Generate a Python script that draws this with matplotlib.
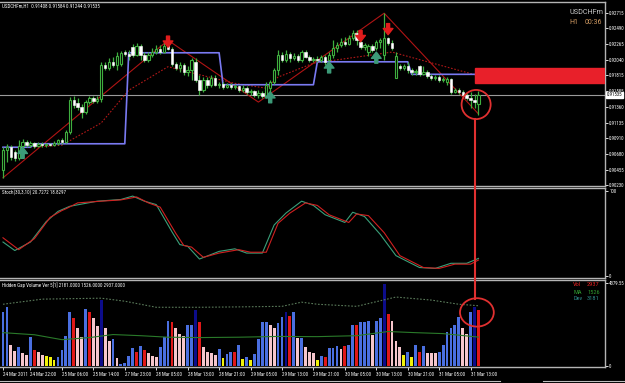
import numpy as np
import matplotlib
matplotlib.use("Agg")
import matplotlib.pyplot as plt
from matplotlib.patches import Ellipse, Rectangle
from matplotlib.lines import Line2D

# USDCHFm H1 candles (bar 0 = 24 Mar 2011, last bar = 31 Mar)
opens = [0.9045, 0.9074, 0.9078, 0.9071, 0.9062, 0.9080, 0.9086, 0.9081, 0.9084, 0.9080,
         0.9083, 0.9081, 0.9083, 0.9081, 0.9084, 0.9088, 0.9086, 0.9100, 0.9146, 0.9142,
         0.9136, 0.9129, 0.9143, 0.9149, 0.9145, 0.9147, 0.9196, 0.9192, 0.9201, 0.9196,
         0.9198, 0.9215, 0.9212, 0.9222, 0.9211, 0.9224, 0.9211, 0.9204, 0.9211, 0.9215,
         0.9219, 0.9215, 0.9224, 0.9219, 0.9198, 0.9192, 0.9196, 0.9186, 0.9189, 0.9201,
         0.9175, 0.9160, 0.9175, 0.9168, 0.9178, 0.9168, 0.9169, 0.9165, 0.9168, 0.9165,
         0.9166, 0.9160, 0.9163, 0.9158, 0.9159, 0.9153, 0.9156, 0.9152, 0.9163, 0.9172,
         0.9189, 0.9211, 0.9204, 0.9212, 0.9206, 0.9209, 0.9204, 0.9215, 0.9208, 0.9204,
         0.9205, 0.9204, 0.9208, 0.9204, 0.9211, 0.9221, 0.9225, 0.9230, 0.9227, 0.9235,
         0.9242, 0.9230, 0.9222, 0.9215, 0.9224, 0.9221, 0.9230, 0.9211, 0.9235, 0.9228,
         0.9178, 0.9195, 0.9192, 0.9195, 0.9189, 0.9186, 0.9195, 0.9183, 0.9186, 0.9181,
         0.9178, 0.9179, 0.9175, 0.9172, 0.9176, 0.9158, 0.9160, 0.9158, 0.9153, 0.9149,
         0.9146, 0.91408]
highs = [0.9078, 0.9083, 0.9081, 0.9074, 0.9088, 0.9090, 0.9088, 0.9087, 0.9086, 0.9086,
         0.9086, 0.9084, 0.9084, 0.9087, 0.9090, 0.9091, 0.9103, 0.9150, 0.9152, 0.9149,
         0.9140, 0.9146, 0.9152, 0.9152, 0.9152, 0.9201, 0.9201, 0.9206, 0.9208, 0.9215,
         0.9217, 0.9218, 0.9218, 0.9227, 0.9228, 0.9227, 0.9215, 0.9215, 0.9221, 0.9225,
         0.9225, 0.9230, 0.9232, 0.9222, 0.9201, 0.9201, 0.9199, 0.9195, 0.9206, 0.9206,
         0.9182, 0.9179, 0.9179, 0.9182, 0.9182, 0.9172, 0.9172, 0.9170, 0.9170, 0.9169,
         0.9168, 0.9168, 0.9166, 0.9162, 0.9160, 0.9160, 0.9159, 0.9172, 0.9175, 0.9192,
         0.9218, 0.9215, 0.9218, 0.9215, 0.9214, 0.9212, 0.9218, 0.9218, 0.9211, 0.9208,
         0.9209, 0.9211, 0.9211, 0.9215, 0.9232, 0.9230, 0.9235, 0.9237, 0.9240, 0.9247,
         0.9247, 0.9231, 0.9228, 0.9227, 0.9227, 0.9232, 0.9235, 0.9271, 0.9237, 0.9232,
         0.9215, 0.9198, 0.9198, 0.9201, 0.9192, 0.9191, 0.9196, 0.9195, 0.9189, 0.9183,
         0.9182, 0.9182, 0.9179, 0.9179, 0.9178, 0.9163, 0.9163, 0.9160, 0.9156, 0.9158,
         0.9155, 0.91584]
lows = [0.9034, 0.9057, 0.9060, 0.9058, 0.9060, 0.9077, 0.9078, 0.9078, 0.9077, 0.9078,
        0.9078, 0.9078, 0.9080, 0.9080, 0.9081, 0.9083, 0.9084, 0.9097, 0.9134, 0.9132,
        0.9120, 0.9126, 0.9140, 0.9142, 0.9142, 0.9143, 0.9189, 0.9189, 0.9194, 0.9189,
        0.9195, 0.9209, 0.9204, 0.9208, 0.9209, 0.9204, 0.9201, 0.9201, 0.9208, 0.9212,
        0.9212, 0.9214, 0.9218, 0.9195, 0.9189, 0.9186, 0.9182, 0.9181, 0.9175, 0.9172,
        0.9153, 0.9158, 0.9163, 0.9165, 0.9166, 0.9163, 0.9162, 0.9163, 0.9162, 0.9162,
        0.9158, 0.9158, 0.9155, 0.9153, 0.9150, 0.9149, 0.9149, 0.9149, 0.9158, 0.9169,
        0.9182, 0.9201, 0.9201, 0.9201, 0.9204, 0.9201, 0.9201, 0.9206, 0.9201, 0.9201,
        0.9201, 0.9201, 0.9196, 0.9204, 0.9206, 0.9215, 0.9222, 0.9224, 0.9225, 0.9232,
        0.9225, 0.9219, 0.9218, 0.9209, 0.9215, 0.9218, 0.9221, 0.9204, 0.9225, 0.9218,
        0.9178, 0.9189, 0.9189, 0.9185, 0.9182, 0.9182, 0.9181, 0.9182, 0.9178, 0.9175,
        0.9175, 0.9172, 0.9172, 0.9168, 0.9155, 0.9156, 0.9155, 0.9150, 0.9146, 0.9134,
        0.9134, 0.91244]
closes = [0.9074, 0.9078, 0.9064, 0.9062, 0.9080, 0.9086, 0.9081, 0.9084, 0.9080, 0.9083,
          0.9081, 0.9083, 0.9081, 0.9084, 0.9088, 0.9086, 0.9100, 0.9146, 0.9139, 0.9136,
          0.9129, 0.9143, 0.9149, 0.9145, 0.9147, 0.9196, 0.9192, 0.9201, 0.9196, 0.9209,
          0.9214, 0.9212, 0.9209, 0.9211, 0.9224, 0.9211, 0.9204, 0.9211, 0.9215, 0.9219,
          0.9215, 0.9224, 0.9219, 0.9198, 0.9192, 0.9196, 0.9186, 0.9189, 0.9204, 0.9175,
          0.9160, 0.9175, 0.9168, 0.9178, 0.9168, 0.9169, 0.9165, 0.9168, 0.9165, 0.9166,
          0.9160, 0.9163, 0.9158, 0.9159, 0.9153, 0.9156, 0.9152, 0.9168, 0.9172, 0.9189,
          0.9211, 0.9204, 0.9212, 0.9206, 0.9209, 0.9204, 0.9215, 0.9208, 0.9204, 0.9205,
          0.9204, 0.9208, 0.9201, 0.9211, 0.9221, 0.9225, 0.9230, 0.9227, 0.9235, 0.9242,
          0.9232, 0.9222, 0.9225, 0.9224, 0.9218, 0.9230, 0.9232, 0.9235, 0.9228, 0.9221,
          0.9209, 0.9192, 0.9195, 0.9189, 0.9186, 0.9188, 0.9183, 0.9186, 0.9181, 0.9178,
          0.9179, 0.9175, 0.9176, 0.9176, 0.9158, 0.9160, 0.9158, 0.9153, 0.9149, 0.9146,
          0.9143, 0.91535]

# overlays on the price window (bar index, price)
zigzag_bars = [0, 42, 65, 97, 121]
zigzag_vals = [0.9034, 0.9232, 0.9143, 0.9271, 0.9126]
ma_bars = [8, 15, 25, 32, 42, 46, 59, 67, 70, 79, 99, 121]
ma_vals = [0.9078, 0.9081, 0.9113, 0.9160, 0.9194, 0.9188, 0.9170, 0.9163, 0.9179, 0.9199, 0.9215, 0.9181]
level_bars = [0, 7, 8, 31, 32, 55, 56, 79, 80, 103, 104, 120]
level_vals = [0.9078, 0.9078, 0.9083, 0.9083, 0.9214, 0.9214, 0.9168, 0.9168, 0.9201, 0.9201, 0.9183, 0.9183]
sell_bars = [42, 91, 98]
sell_tips = [0.9222, 0.9230, 0.9240]
buy_bars = [5, 68, 83, 95]
buy_tips = [0.9078, 0.9158, 0.9201, 0.9215]
zone_low, zone_high = 0.9170, 0.9192
price_ticks = [0.92715, 0.92490, 0.92265, 0.92040, 0.91815, 0.91585,
               0.91360, 0.91135, 0.90910, 0.90680, 0.90455, 0.90230]

# Stoch(30,3,10)
stoch_main_bars = [0, 3, 7, 11, 14, 17, 24, 30, 33, 36, 39, 43, 45, 47, 50, 55, 59,
                   62, 66, 69, 72, 76, 79, 82, 87, 89, 92, 96, 100, 106, 110, 114, 118, 121]
stoch_main = [40, 30, 40, 64, 76, 82, 88, 90, 94, 88, 84, 52, 37, 35, 20, 29, 32,
              27, 27, 60, 74, 88, 83, 72, 63, 75, 70, 49, 24, 10, 9, 15, 15, 20.7272]
stoch_sig_bars = [0, 4, 8, 12, 15, 16, 19, 25, 30, 34, 37, 40, 44, 46, 48, 51, 55, 60,
                  63, 67, 70, 73, 77, 80, 83, 88, 90, 93, 97, 101, 107, 111, 115, 119, 121]
stoch_sig = [45, 31, 44, 69, 77, 79, 86, 88, 89.5, 93, 86, 81, 50, 36, 34, 22, 27, 31,
             28, 28, 62, 74, 86, 83, 72, 63, 73, 71, 51, 24, 10, 9, 14, 14, 18.8297]

# Hidden Gap Volume
volumes = [2830, 3100, 1120, 800, 1000, 700, 590, 1550, 850, 750,
           590, 530, 480, 320, 480, 850, 1600, 2830, 2560, 2030,
           1550, 3000, 2830, 2510, 2090, 3480, 2030, 1340, 1440, 430,
           100, 160, 530, 960, 750, 1070, 850, 700, 530, 480,
           1020, 1550, 2350, 2300, 2030, 1710, 1600, 2140, 2190, 2940,
           2300, 1020, 750, 700, 590, 910, 430, 640, 750, 750,
           1120, 370, 480, 320, 640, 1440, 2300, 2300, 2190, 1980,
           2250, 2570, 2830, 2620, 2830, 1500, 1500, 1020, 750, 700,
           320, 530, 480, 960, 960, 1070, 910, 1070, 1100, 2140,
           2140, 2300, 2300, 2400, 1660, 2350, 2510, 4330, 2730, 2400,
           1340, 1020, 590, 750, 480, 1120, 750, 1070, 700, 700,
           680, 750, 1120, 1820, 1980, 2190, 2570, 1980, 1710, 2830,
           3100, 2937]
vol_kind = list("BBPPBPPBRP" "PYYYBBBBRP" "PBRPPNPPBP" "BBBBRBRPPP" "BBBRPPPBBN"
                "RPPPPBYBBR" "BYBYBBBBPP" "BBNRBPBPPP" "YBRBBBPRBB" "RBBBPBBNRP"
                "PPYBYBRBPP" "PBBBBBBPPB" "NR")
vol_ma_bars = [0, 8, 15, 22, 28, 35, 42, 50, 60, 70, 80, 90, 98, 105, 112, 121]
vol_ma = [1760, 1650, 1390, 1500, 1660, 1600, 1520, 1500, 1520, 1560, 1550, 1600, 1820, 1760, 1710, 1526]
vol_dev_bars = [0, 10, 25, 31, 39, 50, 60, 71, 76, 80, 90, 100, 109, 116, 121]
vol_dev = [3260, 3530, 3580, 3420, 3100, 3100, 3120, 3150, 3370, 3260, 3150, 3640, 3480, 3260, 3181]

date_bars = [0, 7, 15, 23, 31, 39, 47, 55, 63, 71, 79, 87, 95, 103, 111, 119]
date_labels = ["24 Mar 2011", "24 Mar 22:00", "25 Mar 06:00", "25 Mar 14:00", "27 Mar 23:00",
               "28 Mar 05:00", "28 Mar 13:00", "28 Mar 21:00", "29 Mar 05:00", "29 Mar 13:00",
               "29 Mar 21:00", "30 Mar 05:00", "30 Mar 13:00", "30 Mar 21:00", "31 Mar 05:00",
               "31 Mar 13:00"]

plt.rcParams['font.family'] = ['Roboto Condensed', 'DejaVu Sans']
W, H = 625, 383
GREEN = "#3fae3f"
FRAME = "#b4b4b4"
small = 3.6


def box(x0, y0, x1, y1):
    return [x0 / W, 1 - y1 / H, (x1 - x0) / W, (y1 - y0) / H]


def ptext(x, y, s, **kw):
    fig.text(x / W, 1 - y / H, s, va="center", **kw)


fig = plt.figure(figsize=(W / 100, H / 100), dpi=100, facecolor="black")
ax1 = fig.add_axes(box(0, 2, 605, 186))
ax2 = fig.add_axes(box(0, 188, 605, 278), sharex=ax1)
ax3 = fig.add_axes(box(0, 280, 605, 367), sharex=ax1)
for ax in (ax1, ax2, ax3):
    ax.set_facecolor("black")
    for side, sp in ax.spines.items():
        sp.set_color(FRAME)
        sp.set_linewidth(1.0)
    ax.spines["left"].set_visible(False)
    ax.yaxis.tick_right()
    ax.tick_params(axis="y", colors="white", labelsize=3.5, length=2, pad=1, width=0.6)
    ax.tick_params(axis="x", colors="white", labelsize=small, length=2, pad=1.5, width=0.6)
ax1.tick_params(axis="x", bottom=False, labelbottom=False)
ax2.tick_params(axis="x", bottom=False, labelbottom=False)
ax1.set_xlim(-0.76, 153.2)

# price window
idx = np.arange(len(closes))
o, h, l, c = (np.array(v) for v in (opens, highs, lows, closes))
up = c >= o
ax1.vlines(idx, l, h, color=GREEN, lw=0.9, zorder=3)
ax1.bar(idx[up], c[up] - o[up], bottom=o[up], width=0.6, color="black",
        edgecolor=GREEN, lw=0.8, zorder=4)
ax1.bar(idx[~up], o[~up] - c[~up], bottom=c[~up], width=0.6, color="white",
        edgecolor="white", lw=0.4, zorder=4)
ax1.plot(zigzag_bars, zigzag_vals, color="#b01414", lw=0.8, zorder=2)
ax1.plot(ma_bars, ma_vals, color="#b01818", lw=0.8, ls=(0, (1.5, 1.5)), zorder=2)
ax1.plot(level_bars, level_vals, color="#7a7af2", lw=1.2, zorder=2)
ax1.axhline(closes[-1], color="#9a9a9a", lw=0.8, zorder=1)
ax1.add_patch(Rectangle((level_bars[-1], zone_low), 40, zone_high - zone_low,
                        color="#e8202a", zorder=5))
for b, tip in zip(sell_bars, sell_tips):
    ax1.annotate("", xy=(b, tip), xytext=(b, tip + 0.0016),
                 arrowprops=dict(facecolor="#e01c1c", edgecolor="#e01c1c", width=2.2,
                                 headwidth=7, headlength=4.5, shrink=0), zorder=6)
for b, tip in zip(buy_bars, buy_tips):
    ax1.annotate("", xy=(b, tip), xytext=(b, tip - 0.0016),
                 arrowprops=dict(facecolor="#3c9a78", edgecolor="#3c9a78", width=2.2,
                                 headwidth=7, headlength=4.5, shrink=0), zorder=6)
ax1.add_patch(Ellipse((120.4, 0.91395), 7.4, 0.0042, fill=False, ec="#e03030", lw=1.3, zorder=7))
ax1.set_ylim(0.90222, 0.92871)
ax1.set_yticks(price_ticks)
ax1.set_yticklabels([f"{v:.5f}" for v in price_ticks])
ax1.text(1.003, closes[-1], f"{closes[-1]:.5f}", transform=ax1.get_yaxis_transform(),
         fontsize=3.5, color="black", va="center", ha="left",
         bbox=dict(boxstyle="square,pad=0.12", fc="white", ec="white"), clip_on=False, zorder=8)

# stochastic window
ax2.plot(stoch_main_bars, stoch_main, color="#3aa07a", lw=0.8)
ax2.plot(stoch_sig_bars, stoch_sig, color="#d02020", lw=0.8)
ax2.set_ylim(-2.3, 103.5)
ax2.set_yticks([100, 0])
ax2.set_yticklabels(["100", "0"])

# volume window
kind_color = {"B": "#4a6fe0", "N": "#0c0c8a", "R": "#e01818", "P": "#f6c6cc", "Y": "#f2f20a"}
ax3.bar(idx, volumes, width=0.72, color=[kind_color[k] for k in vol_kind], zorder=2)
ax3.plot(vol_ma_bars, vol_ma, color="#2a7a2a", lw=0.8, zorder=3)
ax3.plot(vol_dev_bars, vol_dev, color="#5a7a5a", lw=0.8, ls=(0, (1.5, 1.5)), zorder=3)
ax3.add_patch(Ellipse((120.6, 2830), 8.6, 1500, fill=False, ec="#e03030", lw=1.3, zorder=7))
ax3.set_ylim(-53, 4540)
ax3.set_yticks([4379.55, 0])
ax3.set_yticklabels(["4379.55", "0"])
ax3.set_xticks(date_bars)
ax3.set_xticklabels(date_labels, ha="left")

# hand-drawn connector between the two circles
fig.add_artist(Line2D([475 / W, 475 / W], [1 - 119 / H, 1 - 299 / H], color="#e03030", lw=1.5))
fig.add_artist(Line2D([0, 500 / W], [1 - 381 / H] * 2, color="#bdbdbd", lw=0.8))
fig.add_artist(Line2D([543 / W, 1], [1 - 381 / H] * 2, color="#bdbdbd", lw=0.8))

# captions
ptext(2, 6, "USDCHFm,H1  0.91408 0.91584 0.91244 0.91535", color="white", fontsize=small)
ptext(570, 12, "USDCHFm", color="#c8c8c8", fontsize=5.2, family="Roboto")
ptext(569, 23, "H1", color="#d09a62", fontsize=5.0, family="Roboto")
ptext(585, 23, "00:36", color="#d09a62", fontsize=5.0, family="Roboto")
ptext(2, 192, "Stoch(30,3,10) 20.7272 18.8297", color="white", fontsize=small)
ptext(2, 285, "Hidden Gap Volume Ver 5[1] 2181.0000 1526.0000 2937.0000", color="white", fontsize=small)
ptext(573, 285, "Vol", color="#e02020", fontsize=4.6)
ptext(587, 285, "2937", color="#e02020", fontsize=4.6)
ptext(573, 292, "MA", color="#2f9a2f", fontsize=4.6)
ptext(587, 292, "1526", color="#2f9a2f", fontsize=4.6)
ptext(573, 299, "Dev", color="#2f8a8a", fontsize=4.6)
ptext(587, 299, "3181", color="#2f8a8a", fontsize=4.6)

fig.savefig("out.png", dpi=100, facecolor="black")
